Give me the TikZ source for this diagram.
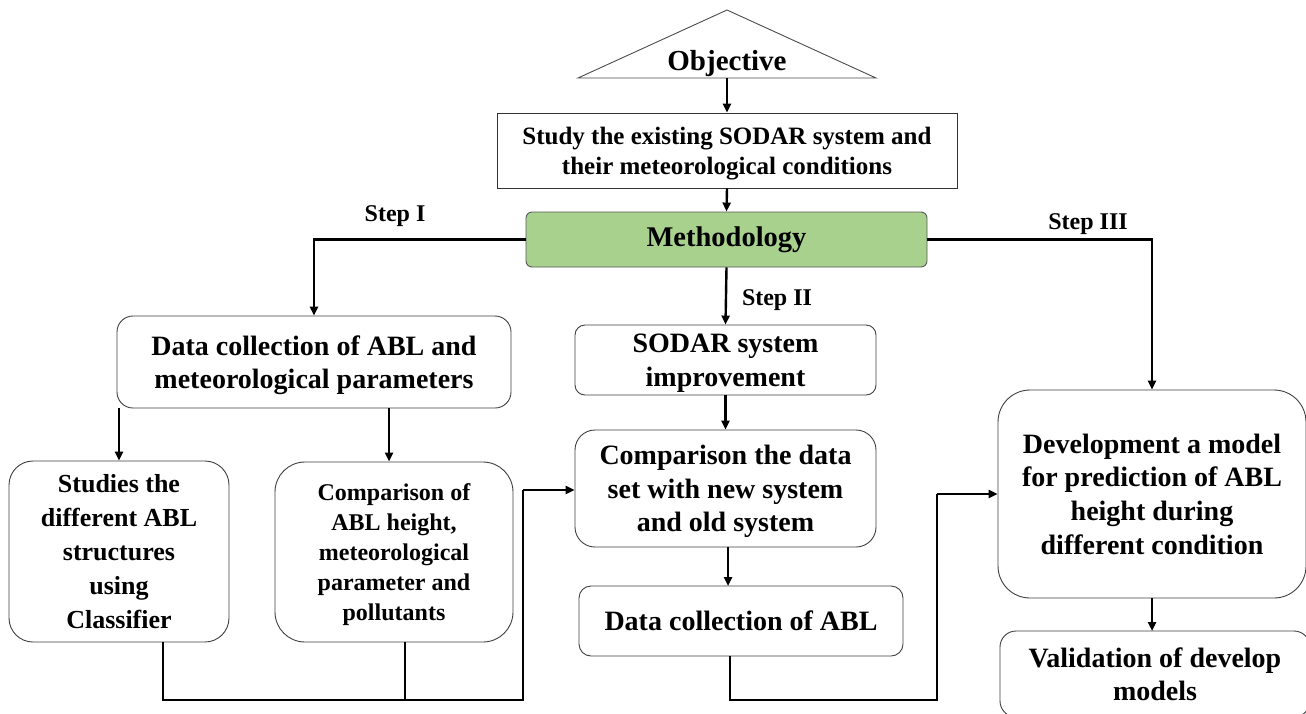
\documentclass[tikz,border=0pt]{standalone}
\usepackage{fontspec}
\setmainfont{Liberation Serif}
\usetikzlibrary{arrows.meta}
\begin{document}
\begin{tikzpicture}[x=1pt,y=-1pt,
  box/.style={draw=black!75,line width=0.9pt,rounded corners=#1,align=center,text depth=0pt,
              font=\bfseries\fontsize{28}{33.6}\selectfont},
  box/.default=22pt,
  link/.style={line width=2.4pt,black},
  arr/.style={link,-{Triangle[length=9pt,width=8pt]}},
  steplbl/.style={font=\bfseries\fontsize{24}{26}\selectfont,inner sep=0pt}]
\useasboundingbox (0,0) rectangle (1306,713);
\fill[white] (0,0) rectangle (1306,713);

% objective triangle
\draw[draw=black!70,line width=0.9pt] (578,78) -- (727,10) -- (876,78) -- cycle;
\node[font=\bfseries\fontsize{29}{30}\selectfont,inner sep=0pt] (obj) at (727,64) {Objective};
\coordinate (objbase) at (727,78);

% boxes
\node[draw=black!80,line width=0.9pt,minimum width=460pt,minimum height=75pt,align=center,text depth=0pt,
      font=\bfseries\fontsize{25}{30}\selectfont] (study) at (727,150.5)
  {Study the existing SODAR system and\\their meteorological conditions};
\node[draw=black!65,fill={rgb,255:red,169;green,209;blue,142},line width=0.9pt,
      rounded corners=6pt,minimum width=401pt,minimum height=55pt,
      font=\bfseries\fontsize{28.5}{30}\selectfont] (meth) at (726.5,239.5) {Methodology};

\node[box=16pt,minimum width=394pt,minimum height=92pt] (dc) at (314,362)
  {Data collection of ABL and\\meteorological parameters};
\node[box=24pt,minimum width=220pt,minimum height=181pt,font=\bfseries\fontsize{26}{33.8}\selectfont] (stud) at (119,551.5)
  {Studies the\\different ABL\\structures\\using\\Classifier};
\node[box=30pt,minimum width=238pt,minimum height=180pt,font=\bfseries\fontsize{24}{30}\selectfont] (cmpo) at (394,552)
  {Comparison of\\ABL height,\\meteorological\\parameter and\\pollutants};

\node[box=10pt,minimum width=301pt,minimum height=70pt] (sodar) at (725.5,360)
  {SODAR system\\improvement};
\node[box=20pt,minimum width=301pt,minimum height=117pt] (cmpd) at (725.5,488.5)
  {Comparison the data\\set with new system\\and old system};
\node[box=12pt,minimum width=324pt,minimum height=70pt] (dca) at (741,621)
  {Data collection of ABL};

\node[box=32pt,minimum width=308pt,minimum height=208pt] (dev) at (1152,494)
  {Development a model\\for prediction of ABL\\height during\\different condition};
\node[box=16pt,minimum width=310pt,minimum height=86pt] (val) at (1155,674)
  {Validation of develop\\models};

% step labels
\node[steplbl] (s1) at (395,216) {Step I};
\node[steplbl] (s2) at (777,300) {Step II};
\node[steplbl] (s3) at (1088,224) {Step III};

% connectors
\draw[arr] (objbase) -- (study.north);
\draw[arr] (study.south) -- (meth.north);
\draw[arr] (meth.west) -| (dc.north);
\draw[arr] (meth.south) -- (sodar.north);
\draw[arr] (meth.east) -| (dev.north);

\draw[arr] (dc.south -| stud.north) -- (stud.north);
\draw[arr] (389,408) -- (389,461.5);

\coordinate (j1) at (163,700);
\coordinate (j2) at (523,700);
\coordinate (j3) at (523,490);
\draw[link] (163,642) -- (j1) -- (j2) -- (j3);
\draw[arr] (j3) -- (cmpd.west |- j3);
\draw[link] (405,642) -- (405,700);

\draw[arr] (sodar.south) -- (cmpd.north);
\draw[arr] (728,547) -- (728,586);

\coordinate (k1) at (730,700);
\coordinate (k2) at (937,700);
\coordinate (k3) at (937,494);
\draw[link] (730,656) -- (k1) -- (k2) -- (k3);
\draw[arr] (k3) -- (dev.west |- k3);

\draw[arr] (1152,598) -- (1152,631);
\end{tikzpicture}
\end{document}
